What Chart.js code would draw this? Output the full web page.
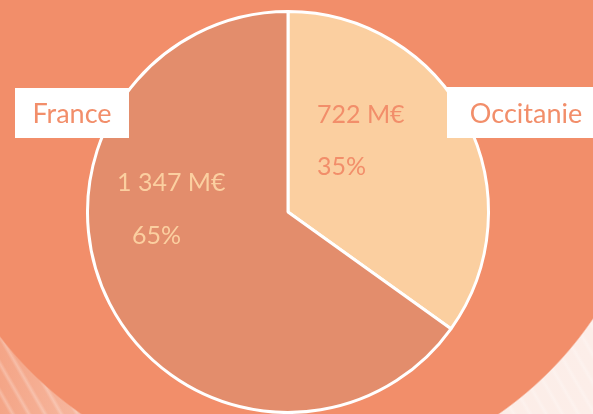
<!DOCTYPE html>
<html>
<head>
<meta charset="utf-8">
<script src="https://cdn.jsdelivr.net/npm/chart.js@4"></script>
<style>
  html, body { margin: 0; padding: 0; }
  body {
    width: 593px; height: 414px; overflow: hidden;
    background:
      radial-gradient(circle 367px at 290px 113px, #F28E6A 99.6%, rgba(242,142,106,0) 100%),
      repeating-linear-gradient(60deg, rgba(255,255,255,0) 0px, rgba(255,255,255,0) 8px, rgba(255,255,255,0.25) 11px, rgba(255,255,255,0) 14px),
      linear-gradient(to right, #F4A587 0%, #F8C6B2 25%, #FCEBE4 55%, #FCEEE9 100%);
  }
  #wrap { position: absolute; left: 0; top: 0; width: 593px; height: 414px; }
</style>
</head>
<body>
<div id="wrap"><canvas id="camembert"></canvas></div>
<script>
const regions = ["Occitanie", "France"];
const montants = [722, 1347];
const montantLabels = ["722 M€", "1 347 M€"];
const parts = ["35%", "65%"];

const couleurs = ["#FBCFA0", "#E38D6C"];
const couleursTexte = ["#F28E6A", "#FBCFA0"];
const police = "Lato, 'Open Sans', sans-serif";

// texte dans les parts + étiquettes blanches des régions
const etiquettes = {
    id: 'etiquettes',
    afterDatasetsDraw(chart) {
        const ctx = chart.ctx;
        const arcs = chart.getDatasetMeta(0).data;
        const cx = arcs[0].x, cy = arcs[0].y;
        ctx.save();
        ctx.font = "25px " + police;
        ctx.textBaseline = "middle";
        ctx.textAlign = "left";

        // Occitanie
        ctx.fillStyle = couleursTexte[0];
        ctx.fillText(montantLabels[0], cx + 29, cy - 97);
        ctx.fillText(parts[0], cx + 29, cy - 45);
        // France
        ctx.fillStyle = couleursTexte[1];
        ctx.fillText(montantLabels[1], cx - 171, cy - 29);
        ctx.fillText(parts[1], cx - 156, cy + 24);

        // boîtes blanches
        ctx.fillStyle = "#FFFFFF";
        ctx.fillRect(cx - 273, cy - 124, 114, 50);
        ctx.fillRect(cx + 159, cy - 125, 150, 51);
        ctx.fillStyle = "#F28E6A";
        ctx.textAlign = "center";
        ctx.font = "27px " + police;
        ctx.fillText(regions[1], cx - 216, cy - 98);
        ctx.fillText(regions[0], cx + 238, cy - 98);
        ctx.restore();
    }
};

new Chart(document.getElementById("camembert"), {
    type: 'pie',
    data: {
        labels: regions,
        datasets: [{
            data: montants,
            backgroundColor: couleurs,
            borderColor: "#FFFFFF",
            borderWidth: 3
        }]
    },
    options: {
        responsive: true,
        maintainAspectRatio: false,
        animation: false,
        layout: { padding: { left: 86, right: 103, top: 10, bottom: 0 } },
        plugins: {
            legend: { display: false },
            tooltip: { enabled: false }
        }
    },
    plugins: [etiquettes]
});
</script>
</body>
</html>
